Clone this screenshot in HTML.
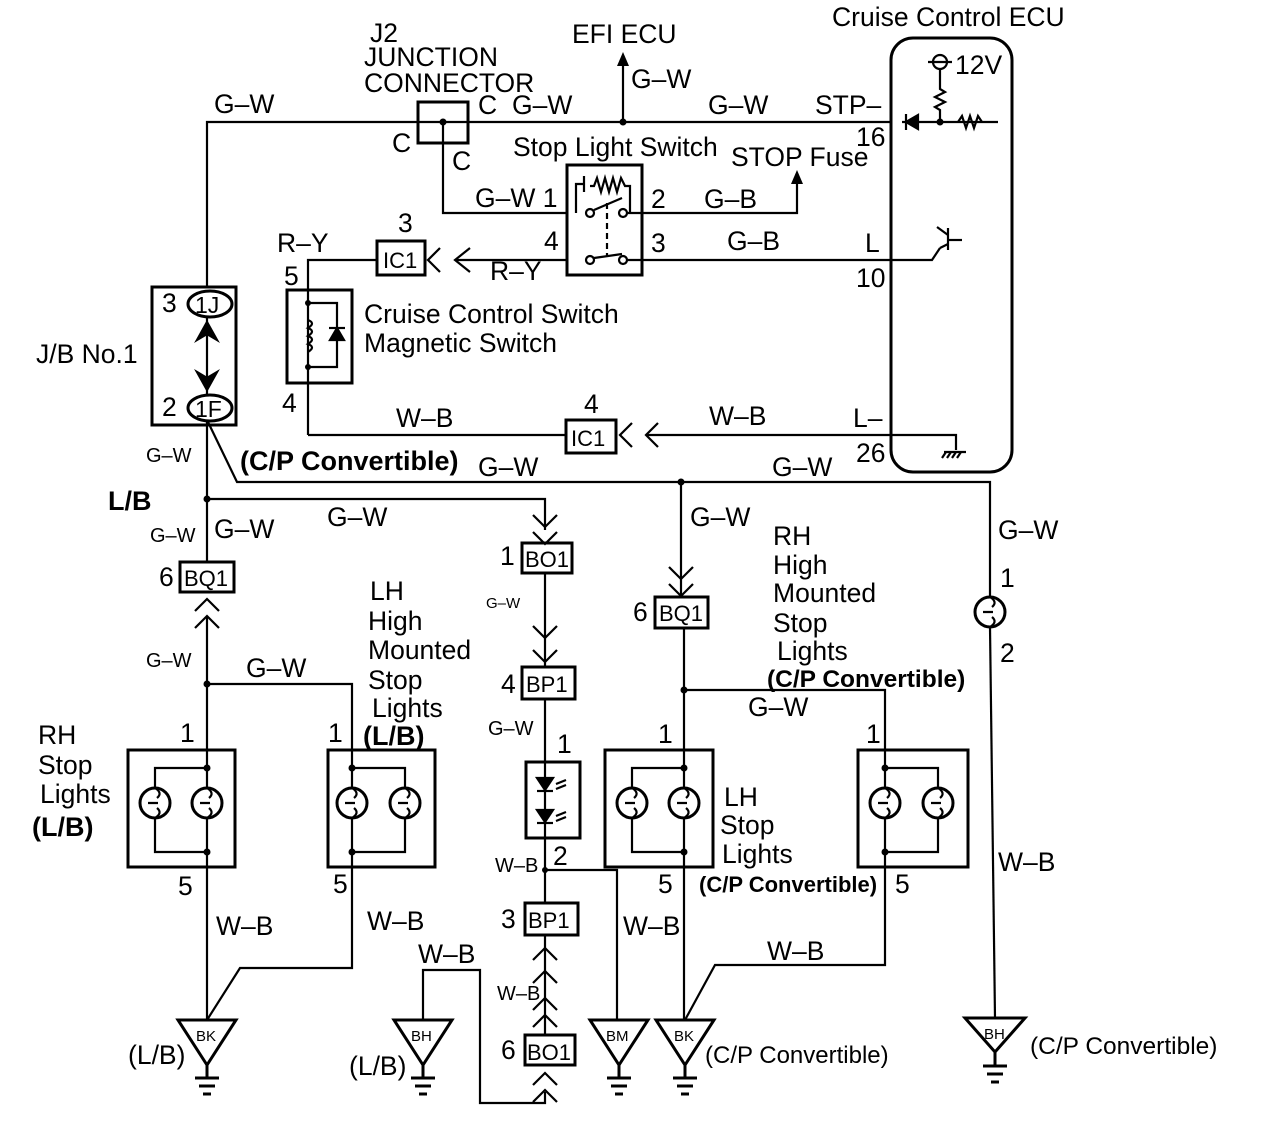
<!DOCTYPE html>
<html><head><meta charset="utf-8"><style>
body{margin:0;background:#fff}
svg{display:block}
text{font-family:"Liberation Sans",Arial,sans-serif;fill:#000}
</style></head><body>
<svg width="1264" height="1124" viewBox="0 0 1264 1124" xmlns="http://www.w3.org/2000/svg">
<g fill="none" stroke="#000" stroke-width="2.2">
<polyline points="207,287 207,122 892,122"/>
<rect x="418" y="102" width="50" height="41" stroke-width="3"/>
<polyline points="443,122 443,213 567,213"/>
<line x1="623" y1="122" x2="623" y2="62"/>
<rect x="567" y="165" width="75" height="110" stroke-width="3"/>
<circle cx="590" cy="213" r="4"/><circle cx="623" cy="213" r="4"/>
<circle cx="590" cy="260" r="4"/><circle cx="623" cy="260" r="4"/>
<line x1="594" y1="210" x2="622" y2="198"/>
<line x1="594" y1="258" x2="622" y2="254"/>
<line x1="607" y1="203" x2="607" y2="257" stroke-dasharray="6,4"/>
<polyline points="576,213 576,184 584,184 584,176 584,192"/>
<polyline points="590,186 594,186 597,178 601,192 605,178 609,192 613,178 617,192 621,178 625,186 630,186 630,213"/>
<polyline points="627,213 797,213 797,178"/>
<line x1="627" y1="260" x2="892" y2="260"/>
<line x1="567" y1="260" x2="455" y2="260"/>
<polyline points="470,248 455,260 470,272"/>
<polyline points="440,248 428,260 440,272"/>
<rect x="377" y="241" width="48" height="34" stroke-width="3"/>
<polyline points="377,260 308,260 308,290"/>
<rect x="287" y="290" width="65" height="93" stroke-width="3"/>
<line x1="308" y1="290" x2="308" y2="435"/>
<polyline points="308,303 337,303 337,367 308,367"/>
<path d="M308,320 q8,3 0,8 q8,3 0,8 q8,3 0,8 q8,3 0,8"/>
<polygon points="330,340 344,340 337,328" fill="#000"/>
<line x1="329" y1="328" x2="345" y2="328"/>
<polyline points="308,435 566,435"/>
<rect x="566" y="420" width="50" height="33" stroke-width="3"/>
<polyline points="632,423 620,435 632,447"/>
<polyline points="658,423 646,435 658,447"/>
<line x1="646" y1="435" x2="892" y2="435"/>
<rect x="891" y="38" width="121" height="434" rx="22" stroke-width="3"/>
<line x1="902" y1="122" x2="998" y2="122"/>
<polygon points="906,122 918,115 918,129" fill="#000"/>
<line x1="906" y1="114" x2="906" y2="130"/>
<polyline points="940,122 940,110 935,107 945,102 935,97 945,92 940,89 940,70"/>
<circle cx="940" cy="62" r="7"/><line x1="928" y1="62" x2="952" y2="62"/>
<polyline points="958,122 962,116 966,128 970,116 974,128 978,116 982,122"/>
<polyline points="892,260 932,260 940,248"/>
<line x1="948" y1="228" x2="948" y2="250"/><line x1="948" y1="240" x2="962" y2="240"/>
<line x1="940" y1="248" x2="948" y2="244"/><line x1="937" y1="227" x2="948" y2="235"/>
<polyline points="892,435 956,435 956,450"/>
<line x1="944" y1="452" x2="966" y2="452"/>
<line x1="946" y1="452" x2="942" y2="458"/><line x1="951" y1="452" x2="947" y2="458"/><line x1="956" y1="452" x2="952" y2="458"/><line x1="961" y1="452" x2="957" y2="458"/>
<rect x="152" y="287" width="84" height="138" stroke-width="3"/>
<ellipse cx="210" cy="304" rx="22" ry="13" stroke-width="3"/>
<ellipse cx="210" cy="408" rx="22" ry="13" stroke-width="3"/>
<line x1="207" y1="317" x2="207" y2="395"/>
<polygon points="197,340 207,322 217,340 207,334" fill="#000"/>
<polygon points="197,372 207,378 217,372 207,390" fill="#000"/>
<line x1="207" y1="421" x2="207" y2="562"/>
<polyline points="208,422 237,482 990,482 990,597"/>
<polyline points="207,499 545,499 545,530"/>
<polyline points="533,515 545,527 557,515"/>
<polyline points="533,532 545,544 557,532"/>
<rect x="522" y="543" width="50" height="30" stroke-width="3"/>
<line x1="545" y1="573" x2="545" y2="667"/>
<polyline points="533,626 545,638 557,626"/>
<polyline points="533,650 545,662 557,650"/>
<rect x="522" y="667" width="53" height="32" stroke-width="3"/>
<line x1="545" y1="699" x2="545" y2="903"/>
<rect x="526" y="762" width="54" height="76" stroke-width="3"/>
<polygon points="537,778 553,778 545,790" fill="#000"/><line x1="537" y1="791" x2="553" y2="791"/>
<polygon points="537,810 553,810 545,822" fill="#000"/><line x1="537" y1="823" x2="553" y2="823"/>
<line x1="556" y1="784" x2="566" y2="780"/><line x1="556" y1="789" x2="566" y2="785"/>
<line x1="556" y1="816" x2="566" y2="812"/><line x1="556" y1="821" x2="566" y2="817"/>
<polyline points="545,870 617,870 617,1020"/>
<rect x="525" y="903" width="53" height="32" stroke-width="3"/>
<line x1="545" y1="935" x2="545" y2="1035"/>
<polyline points="533,960 545,948 557,960"/>
<polyline points="533,983 545,971 557,983"/>
<polyline points="533,1010 545,998 557,1010"/>
<polyline points="533,1027 545,1015 557,1027"/>
<rect x="525" y="1035" width="50" height="30" stroke-width="3"/>
<polyline points="533,1085 545,1073 557,1085"/>
<polyline points="533,1102 545,1090 557,1102"/>
<polyline points="545,1092 545,1103 480,1103 480,970 423,970 423,1020"/>
<rect x="180" y="562" width="54" height="30" stroke-width="3"/>
<polyline points="195,611 207,599 219,611"/>
<polyline points="195,628 207,616 219,628"/>
<line x1="207" y1="616" x2="207" y2="1020"/>
<polyline points="207,684 352,684 352,968 240,968 207,1020"/>
<line x1="681" y1="482" x2="681" y2="597"/>
<polyline points="669,567 681,579 693,567"/>
<polyline points="669,584 681,596 693,584"/>
<rect x="655" y="597" width="53" height="31" stroke-width="3"/>
<line x1="684" y1="628" x2="684" y2="1020"/>
<polyline points="684,690 885,690 885,965 715,965 685,1020"/>
<circle cx="990" cy="612" r="15" stroke-width="3"/>
<line x1="990" y1="627" x2="995" y2="1018"/>
<rect x="128" y="750" width="107" height="117" stroke-width="3"/>
<polyline points="207,768 155,768 155,852 207,852"/>
<rect x="328" y="750" width="107" height="117" stroke-width="3"/>
<polyline points="352,768 405,768 405,852 352,852"/>
<rect x="605" y="750" width="108" height="117" stroke-width="3"/>
<polyline points="684,768 632,768 632,852 684,852"/>
<rect x="858" y="750" width="110" height="117" stroke-width="3"/>
<polyline points="885,768 938,768 938,852 885,852"/>
<g fill="#fff" stroke-width="3">
<circle cx="155" cy="803" r="15"/><circle cx="207" cy="803" r="15"/>
<circle cx="352" cy="803" r="15"/><circle cx="405" cy="803" r="15"/>
<circle cx="632" cy="803" r="15"/><circle cx="684" cy="803" r="15"/>
<circle cx="885" cy="803" r="15"/><circle cx="938" cy="803" r="15"/>
</g>
<g stroke-width="2.2">
<path d="M148,803 h10 M155,788 q8,5 2,10 M155,818 q8,-5 2,-10"/>
<path d="M200,803 h10 M207,788 q8,5 2,10 M207,818 q8,-5 2,-10"/>
<path d="M345,803 h10 M352,788 q8,5 2,10 M352,818 q8,-5 2,-10"/>
<path d="M398,803 h10 M405,788 q8,5 2,10 M405,818 q8,-5 2,-10"/>
<path d="M625,803 h10 M632,788 q8,5 2,10 M632,818 q8,-5 2,-10"/>
<path d="M677,803 h10 M684,788 q8,5 2,10 M684,818 q8,-5 2,-10"/>
<path d="M878,803 h10 M885,788 q8,5 2,10 M885,818 q8,-5 2,-10"/>
<path d="M931,803 h10 M938,788 q8,5 2,10 M938,818 q8,-5 2,-10"/>
<path d="M983,612 h10 M990,597 q8,5 2,10 M990,627 q8,-5 2,-10"/>
</g>
<g stroke-width="3">
<polygon points="178,1020 236,1020 207,1065"/><polyline points="207,1065 207,1078"/>
<line x1="195" y1="1078" x2="219" y2="1078"/><line x1="199" y1="1086" x2="215" y2="1086"/><line x1="203" y1="1094" x2="211" y2="1094"/>
<polygon points="394,1020 452,1020 423,1065"/><polyline points="423,1065 423,1078"/>
<line x1="411" y1="1078" x2="435" y2="1078"/><line x1="415" y1="1086" x2="431" y2="1086"/><line x1="419" y1="1094" x2="427" y2="1094"/>
<polygon points="590,1020 648,1020 619,1065"/><polyline points="619,1065 619,1078"/>
<line x1="607" y1="1078" x2="631" y2="1078"/><line x1="611" y1="1086" x2="627" y2="1086"/><line x1="615" y1="1094" x2="623" y2="1094"/>
<polygon points="656,1020 714,1020 685,1065"/><polyline points="685,1065 685,1078"/>
<line x1="673" y1="1078" x2="697" y2="1078"/><line x1="677" y1="1086" x2="693" y2="1086"/><line x1="681" y1="1094" x2="689" y2="1094"/>
<polygon points="965,1018 1025,1018 995,1052"/><polyline points="995,1052 995,1066"/>
<line x1="983" y1="1066" x2="1007" y2="1066"/><line x1="987" y1="1074" x2="1003" y2="1074"/><line x1="991" y1="1082" x2="999" y2="1082"/>
</g>
</g>
<g fill="#000">
<circle cx="443" cy="122" r="3.5"/><circle cx="623" cy="122" r="3.5"/><circle cx="940" cy="122" r="3.5"/>
<circle cx="207" cy="499" r="3.5"/><circle cx="681" cy="482" r="3.5"/>
<circle cx="207" cy="684" r="3.5"/><circle cx="684" cy="690" r="3.5"/>
<circle cx="207" cy="768" r="3.5"/><circle cx="207" cy="852" r="3.5"/>
<circle cx="352" cy="768" r="3.5"/><circle cx="352" cy="852" r="3.5"/>
<circle cx="684" cy="768" r="3.5"/><circle cx="684" cy="852" r="3.5"/>
<circle cx="885" cy="768" r="3.5"/><circle cx="885" cy="852" r="3.5"/>
<circle cx="545" cy="870" r="3"/>
<circle cx="308" cy="303" r="3"/><circle cx="308" cy="367" r="3"/>
<polygon points="623,52 617,66 629,66"/>
<polygon points="797,170 791,184 803,184"/>
</g>
<g font-size="26.5">
<text x="832" y="26">Cruise Control ECU</text>
<text x="370" y="42">J2</text>
<text x="364" y="66">JUNCTION</text>
<text x="364" y="92">CONNECTOR</text>
<text x="572" y="43">EFI ECU</text>
<text x="631" y="88">G–W</text>
<text x="955" y="74">12V</text>
<text x="214" y="113">G–W</text>
<text x="478" y="114">C</text>
<text x="512" y="114">G–W</text>
<text x="708" y="114">G–W</text>
<text x="815" y="114">STP–</text>
<text x="856" y="146">16</text>
<text x="392" y="152">C</text>
<text x="452" y="170">C</text>
<text x="513" y="156">Stop Light Switch</text>
<text x="731" y="166">STOP Fuse</text>
<text x="475" y="207">G–W 1</text>
<text x="651" y="208">2</text>
<text x="704" y="208">G–B</text>
<text x="398" y="232">3</text>
<text x="544" y="250">4</text>
<text x="651" y="252">3</text>
<text x="727" y="250">G–B</text>
<text x="865" y="252">L</text>
<text x="856" y="287">10</text>
<text x="277" y="252">R–Y</text>
<text x="490" y="280">R–Y</text>
<text x="284" y="285">5</text>
<text x="162" y="312">3</text>
<text x="162" y="416">2</text>
<text x="36" y="363">J/B No.1</text>
<text x="364" y="323">Cruise Control Switch</text>
<text x="364" y="352">Magnetic Switch</text>
<text x="282" y="412">4</text>
<text x="396" y="427">W–B</text>
<text x="584" y="413">4</text>
<text x="709" y="425">W–B</text>
<text x="853" y="427">L–</text>
<text x="856" y="462">26</text>
<text x="478" y="476">G–W</text>
<text x="772" y="476">G–W</text>
<text x="214" y="538">G–W</text>
<text x="327" y="526">G–W</text>
<text x="690" y="526">G–W</text>
<text x="998" y="539">G–W</text>
<text x="773" y="545">RH</text>
<text x="773" y="574">High</text>
<text x="773" y="602">Mounted</text>
<text x="773" y="632">Stop</text>
<text x="777" y="660">Lights</text>
<text x="1000" y="587">1</text>
<text x="1000" y="662">2</text>
<text x="500" y="565">1</text>
<text x="159" y="586">6</text>
<text x="633" y="621">6</text>
<text x="370" y="600">LH</text>
<text x="368" y="630">High</text>
<text x="368" y="659">Mounted</text>
<text x="368" y="689">Stop</text>
<text x="372" y="717">Lights</text>
<text x="501" y="693">4</text>
<text x="246" y="677">G–W</text>
<text x="748" y="716">G–W</text>
<text x="180" y="742">1</text>
<text x="328" y="742">1</text>
<text x="658" y="743">1</text>
<text x="866" y="743">1</text>
<text x="557" y="753">1</text>
<text x="38" y="744">RH</text>
<text x="38" y="774">Stop</text>
<text x="40" y="803">Lights</text>
<text x="724" y="806">LH</text>
<text x="720" y="834">Stop</text>
<text x="722" y="863">Lights</text>
<text x="553" y="865">2</text>
<text x="178" y="895">5</text>
<text x="333" y="893">5</text>
<text x="658" y="893">5</text>
<text x="895" y="893">5</text>
<text x="998" y="871">W–B</text>
<text x="216" y="935">W–B</text>
<text x="367" y="930">W–B</text>
<text x="501" y="928">3</text>
<text x="623" y="935">W–B</text>
<text x="767" y="960">W–B</text>
<text x="418" y="963">W–B</text>
<text x="501" y="1059">6</text>
<text x="128" y="1064">(L/B)</text>
<text x="349" y="1075">(L/B)</text>
<text x="1030" y="1054" font-size="24.5">(C/P Convertible)</text>
<text x="705" y="1063" font-size="24">(C/P Convertible)</text>
</g>
<g font-size="27" font-weight="bold">
<text x="240" y="470">(C/P Convertible)</text>
<text x="108" y="510">L/B</text>
<text x="363" y="745">(L/B)</text>
<text x="32" y="836">(L/B)</text>
<text x="767" y="687" font-size="24.5">(C/P Convertible)</text>
<text x="699" y="892" font-size="22">(C/P Convertible)</text>
</g>
<g font-size="20">
<text x="146" y="462">G–W</text>
<text x="150" y="542">G–W</text>
<text x="146" y="667">G–W</text>
<text x="488" y="735">G–W</text>
<text x="495" y="872">W–B</text>
<text x="497" y="1000">W–B</text>
</g>
<g font-size="15"><text x="486" y="608">G–W</text></g>
<g font-size="22">
<text x="383" y="268">IC1</text>
<text x="571" y="446">IC1</text>
<text x="184" y="586">BQ1</text>
<text x="659" y="621">BQ1</text>
<text x="525" y="567">BO1</text>
<text x="526" y="692">BP1</text>
<text x="528" y="928">BP1</text>
<text x="527" y="1060">BO1</text>
<text x="195" y="313" font-size="23">1J</text>
<text x="195" y="417" font-size="23">1F</text>
</g>
<g font-size="15">
<text x="196" y="1041">BK</text>
<text x="411" y="1041">BH</text>
<text x="606" y="1041">BM</text>
<text x="674" y="1041">BK</text>
<text x="984" y="1039">BH</text>
</g>
</svg>
</body></html>
